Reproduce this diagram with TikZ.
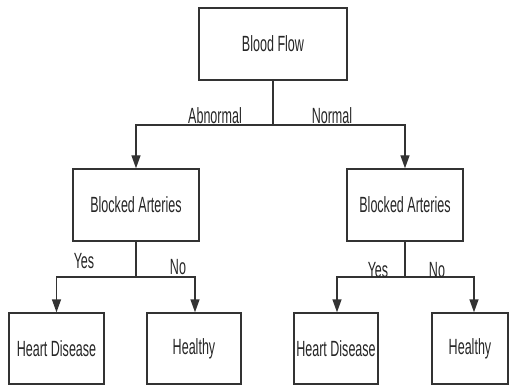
\documentclass[tikz,border=0pt]{standalone}
\usepackage{fontspec}
\setmainfont{Liberation Sans}
\usetikzlibrary{arrows.meta}
% narrow lettering, as set in the boxes
\newcommand{\narrowtext}[1]{\scalebox{0.57}[1]{#1}}
\begin{document}
\begin{tikzpicture}[x=1pt,y=-1pt,
  every node/.style={font=\fontsize{22}{26}\selectfont, text=black!85},
  box/.style={draw=black!80, line width=1.4pt, inner sep=0pt, minimum height=72pt},
  link/.style={draw=black!80, line width=1.4pt},
  arrow/.style={link, -{Triangle[width=9pt,length=13pt]}},
  lbl/.style={anchor=base, inner sep=0pt}]
  \useasboundingbox (0,0) rectangle (509,385);
  % decision boxes
  \node[box, minimum width=148pt] (root) at (273,44) {\narrowtext{Blood Flow}};
  \node[box, minimum width=126pt] (left) at (136,205) {\narrowtext{Blocked Arteries}};
  \node[box, minimum width=116pt] (right) at (405,205) {\narrowtext{Blocked Arteries}};
  % outcome boxes
  \node[box, minimum width=95pt, minimum height=71pt] (ll) at (56.5,348.5) {\narrowtext{Heart Disease}};
  \node[box, minimum width=94pt, minimum height=71pt] (lr) at (194,348.5) {\narrowtext{Healthy}};
  \node[box, minimum width=84pt, minimum height=71pt] (rl) at (336,348.5) {\narrowtext{Heart Disease}};
  \node[box, minimum width=76pt, minimum height=71pt] (rr) at (470,348.5) {\narrowtext{Healthy}};
  % branch points
  \coordinate (j0) at (273,125);
  \coordinate (j1) at (136,277);
  \coordinate (j2) at (405,277);
  % top split
  \draw[link] (root.south) -- (j0);
  \draw[arrow] (j0) -| (left.north);
  \draw[arrow] (j0) -| (right.north);
  \node[lbl] (abn) at (215,124) {\narrowtext{Abnormal}};
  \node[lbl] (nor) at (332,124) {\narrowtext{Normal}};
  % left split
  \draw[link] (left.south) -- (j1);
  \draw[arrow] (j1) -| (ll.north);
  \draw[arrow] (j1) -| ([xshift=1pt]lr.north);
  \node[lbl] (y1) at (84,268) {\narrowtext{Yes}};
  \node[lbl] (n1) at (178,274) {\narrowtext{No}};
  % right split
  \draw[link] (right.south) -- (j2);
  \draw[arrow] (j2) -| ([xshift=1pt]rl.north);
  \draw[arrow] (j2) -| ([xshift=4pt]rr.north);
  \node[lbl] (y2) at (378,277) {\narrowtext{Yes}};
  \node[lbl] (n2) at (437,277) {\narrowtext{No}};
\end{tikzpicture}
\end{document}
